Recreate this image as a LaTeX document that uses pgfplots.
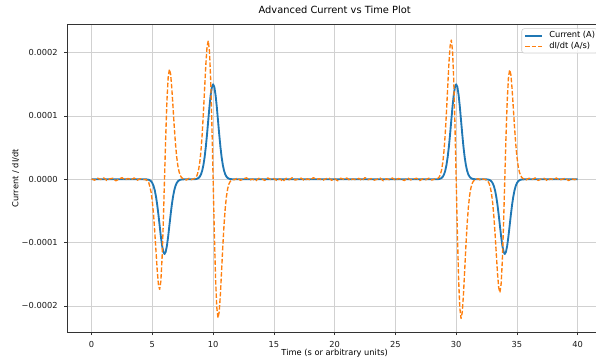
\documentclass[border=0pt]{standalone}
\usepackage{fontspec}
\setmainfont{DejaVu Sans}
\usepackage{pgfplots}
\pgfplotsset{compat=1.18}
\usepackage{pgfplotstable}
\definecolor{mblue}{RGB}{31,119,180}
\definecolor{morange}{RGB}{255,127,14}

\pgfplotstableread{
t I D
0 0 0.6e-6
0.25 0 -1.4e-6
0.5 0 1.8e-6
0.75 0 -0.5e-6
1.0 0 2.2e-6
1.25 0 -1.9e-6
1.5 0 0.7e-6
1.75 0 1.6e-6
2.0 0 -2.4e-6
2.25 0 0.4e-6
2.5 0 2.5e-6
2.75 0 -1.1e-6
3.0 0 1.3e-6
3.25 0 -0.7e-6
3.5 0 2.0e-6
3.75 0 -1.5e-6
4.0 0 0.9e-6
4.25 0 -0.3e-6
4.4 -0.06e-6 -0.5e-6
4.5 -0.14e-6 -0.4e-6
4.6 -0.34e-6 -3.5e-6
4.7 -0.78e-6 -5.0e-6
4.8 -1.63e-6 -12.3e-6
4.9 -3.22e-6 -20.5e-6
5.0 -6.03e-6 -36.2e-6
5.1 -10.6e-6 -56.0e-6
5.2 -17.6e-6 -83.9e-6
5.3 -27.5e-6 -114.0e-6
5.4 -40.4e-6 -143.9e-6
5.5 -56.1e-6 -166.3e-6
5.6 -73.3e-6 -173.8e-6
5.7 -90.3e-6 -160.6e-6
5.8 -104.8e-6 -124.2e-6
5.9 -114.5e-6 -67.9e-6
6.0 -118.0e-6 0.5e-6
6.1 -114.5e-6 67.9e-6
6.2 -104.8e-6 124.2e-6
6.3 -90.3e-6 160.6e-6
6.4 -73.3e-6 173.8e-6
6.5 -56.1e-6 166.3e-6
6.6 -40.4e-6 143.9e-6
6.7 -27.5e-6 114.0e-6
6.8 -17.6e-6 83.3e-6
6.9 -10.6e-6 56.6e-6
7.0 -6.03e-6 35.7e-6
7.1 -3.22e-6 21.1e-6
7.2 -1.63e-6 11.7e-6
7.3 -0.78e-6 5.9e-6
7.4 -0.34e-6 2.8e-6
7.5 -0.14e-6 1.2e-6
7.6 -0.06e-6 0.5e-6
7.8 0 -1.2e-6
8.0 0 1.5e-6
8.2 0 -0.6e-6
8.4 0.08e-6 0.7e-6
8.5 0.18e-6 1.5e-6
8.6 0.44e-6 3.5e-6
8.7 0.99e-6 7.4e-6
8.8 2.07e-6 14.7e-6
8.9 4.10e-6 26.5e-6
9.0 7.67e-6 44.9e-6
9.1 13.5e-6 71.2e-6
9.2 22.4e-6 104.9e-6
9.3 34.9e-6 143.4e-6
9.4 51.4e-6 181.1e-6
9.5 71.3e-6 209.4e-6
9.6 93.2e-6 218.8e-6
9.7 114.8e-6 202.1e-6
9.8 133.2e-6 156.4e-6
9.9 145.6e-6 85.4e-6
10.0 150.0e-6 -0.3e-6
10.1 145.6e-6 -85.4e-6
10.2 133.2e-6 -156.4e-6
10.3 114.8e-6 -202.1e-6
10.4 93.2e-6 -218.8e-6
10.5 71.3e-6 -209.4e-6
10.6 51.4e-6 -181.1e-6
10.7 34.9e-6 -143.4e-6
10.8 22.4e-6 -104.9e-6
10.9 13.5e-6 -71.2e-6
11.0 7.67e-6 -44.9e-6
11.1 4.10e-6 -26.5e-6
11.2 2.07e-6 -14.7e-6
11.3 0.99e-6 -7.4e-6
11.4 0.44e-6 -3.5e-6
11.5 0.18e-6 -1.5e-6
11.6 0.08e-6 -0.7e-6
11.75 0 -0.8e-6
12.0 0 1.9e-6
12.25 0 -1.7e-6
12.5 0 0.6e-6
12.75 0 2.3e-6
13.0 0 -1.2e-6
13.25 0 0.4e-6
13.5 0 -2.5e-6
13.75 0 1.4e-6
14.0 0 0.9e-6
14.25 0 -1.8e-6
14.5 0 2.1e-6
14.75 0 -0.5e-6
15.0 0 1.2e-6
15.25 0 -2.2e-6
15.5 0 0.8e-6
15.75 0 -3.5e-6
16.0 0 1.6e-6
16.25 0 -0.9e-6
16.5 0 2.4e-6
16.75 0 -1.3e-6
17.0 0 0.3e-6
17.25 0 1.8e-6
17.5 0 -2.0e-6
17.75 0 0.7e-6
18.0 0 -1.1e-6
18.25 0 2.6e-6
18.5 0 -0.4e-6
18.75 0 1.0e-6
19.0 0 -1.9e-6
19.25 0 0.5e-6
19.5 0 2.2e-6
19.75 0 -1.5e-6
20.0 0 0.9e-6
20.25 0 -2.4e-6
20.5 0 1.7e-6
20.75 0 -0.2e-6
21.0 0 2.0e-6
21.25 0 -1.6e-6
21.5 0 0.6e-6
21.75 0 -0.9e-6
22.0 0 1.5e-6
22.25 0 -2.1e-6
22.5 0 2.7e-6
22.75 0 -0.7e-6
23.0 0 1.1e-6
23.25 0 -1.4e-6
23.5 0 0.2e-6
23.75 0 1.9e-6
24.0 0 -2.3e-6
24.25 0 0.8e-6
24.5 0 -0.6e-6
24.75 0 2.1e-6
25.0 0 -1.7e-6
25.25 0 1.3e-6
25.5 0 -0.3e-6
25.75 0 -1.9e-6
26.0 0 2.4e-6
26.25 0 -1.0e-6
26.5 0 0.5e-6
26.75 0 1.6e-6
27.0 0 -2.2e-6
27.25 0 0.9e-6
27.5 0 -0.8e-6
27.75 0 1.8e-6
28.0 0 -1.3e-6
28.25 0 0.7e-6
28.4 0.08e-6 0.7e-6
28.5 0.18e-6 1.5e-6
28.6 0.44e-6 3.5e-6
28.7 0.99e-6 7.5e-6
28.8 2.07e-6 14.7e-6
28.9 4.10e-6 26.6e-6
29.0 7.67e-6 45.1e-6
29.1 13.5e-6 71.5e-6
29.2 22.4e-6 105.4e-6
29.3 34.9e-6 144.1e-6
29.4 51.4e-6 181.9e-6
29.5 71.3e-6 210.3e-6
29.6 93.2e-6 219.8e-6
29.7 114.8e-6 203.1e-6
29.8 133.2e-6 157.1e-6
29.9 145.6e-6 85.8e-6
30.0 150.0e-6 0.4e-6
30.1 145.6e-6 -85.8e-6
30.2 133.2e-6 -157.1e-6
30.3 114.8e-6 -203.1e-6
30.4 93.2e-6 -219.8e-6
30.5 71.3e-6 -210.3e-6
30.6 51.4e-6 -181.9e-6
30.7 34.9e-6 -144.1e-6
30.8 22.4e-6 -105.4e-6
30.9 13.5e-6 -71.5e-6
31.0 7.67e-6 -45.1e-6
31.1 4.10e-6 -26.6e-6
31.2 2.07e-6 -14.7e-6
31.3 0.99e-6 -7.5e-6
31.4 0.44e-6 -3.5e-6
31.5 0.18e-6 -1.5e-6
31.6 0.08e-6 -0.7e-6
31.8 0 1.0e-6
32.0 0 -1.4e-6
32.2 0 0.6e-6
32.4 -0.06e-6 -0.5e-6
32.5 -0.14e-6 -1.3e-6
32.6 -0.34e-6 -2.9e-6
32.7 -0.78e-6 -6.1e-6
32.8 -1.63e-6 -12.0e-6
32.9 -3.22e-6 -21.7e-6
33.0 -6.03e-6 -36.7e-6
33.1 -10.6e-6 -58.2e-6
33.2 -17.6e-6 -85.7e-6
33.3 -27.5e-6 -117.2e-6
33.4 -40.4e-6 -148.0e-6
33.5 -56.1e-6 -171.1e-6
33.6 -73.3e-6 -178.8e-6
33.7 -90.3e-6 -165.2e-6
33.8 -104.8e-6 -127.8e-6
33.9 -114.5e-6 -69.8e-6
34.0 -118.0e-6 -0.4e-6
34.1 -114.5e-6 67.5e-6
34.2 -104.8e-6 123.5e-6
34.3 -90.3e-6 159.7e-6
34.4 -73.3e-6 172.8e-6
34.5 -56.1e-6 165.4e-6
34.6 -40.4e-6 143.1e-6
34.7 -27.5e-6 113.3e-6
34.8 -17.6e-6 82.9e-6
34.9 -10.6e-6 56.2e-6
35.0 -6.03e-6 35.5e-6
35.1 -3.22e-6 20.9e-6
35.2 -1.63e-6 11.6e-6
35.3 -0.78e-6 5.9e-6
35.4 -0.34e-6 2.8e-6
35.5 -0.14e-6 1.2e-6
35.6 -0.06e-6 0.5e-6
35.75 0 -1.1e-6
36.0 0 1.7e-6
36.25 0 -0.4e-6
36.5 0 2.2e-6
36.75 0 -1.8e-6
37.0 0 0.6e-6
37.25 0 1.4e-6
37.5 0 -2.3e-6
37.75 0 0.9e-6
38.0 0 -0.7e-6
38.25 0 2.0e-6
38.5 0 -1.5e-6
38.75 0 0.3e-6
39.0 0 1.6e-6
39.25 0 -2.1e-6
39.5 0 0.8e-6
39.75 0 -0.6e-6
40.0 0 1.2e-6
}\datatable

\begin{document}
\begin{tikzpicture}
\begin{axis}[
  name=ax,
  scale only axis,
  width=534.7bp, height=308bp,
  xmin=-2, xmax=42,
  ymin=-0.0002416, ymax=0.0002447,
  xtick={0,5,10,15,20,25,30,35,40},
  xticklabels={0,5,10,15,20,25,30,35,40},
  ytick={-0.0002,-0.0001,0,0.0001,0.0002},
  yticklabels={−0.0002,−0.0001,0.0000,0.0001,0.0002},
  scaled y ticks=false, scaled x ticks=false,
  xtick pos=bottom, ytick pos=left,
  tick align=outside,
  major tick length=2.9bp,
  tick style={black!80, line width=0.66bp},
  axis line style={black!80, line width=0.66bp},
  grid=major,
  major grid style={color=black!18, line width=0.75bp},
  tick label style={font=\fontsize{8.3}{10}\selectfont, inner sep=0pt, text=black!90},
  xticklabel style={anchor=north, yshift=-5.8bp},
  yticklabel style={anchor=east, xshift=-6.6bp},
  title={Advanced Current vs Time Plot},
  title style={at={(axis description cs:0.5,1)}, anchor=base, yshift=4.8bp, inner sep=0pt, font=\fontsize{9.9}{12}\selectfont},
  xlabel={Time (s or arbitrary units)},
  xlabel style={at={(axis description cs:0.5,0)}, anchor=base, yshift=-23.2bp, inner sep=0pt, font=\fontsize{8.3}{10}\selectfont},
  ylabel={Current / dI/dt},
  ylabel style={at={(axis description cs:-0.0965,0.5)}, anchor=center, inner sep=0pt, font=\fontsize{8.3}{10}\selectfont},
  legend cell align=left,
  legend image code/.code={\draw[#1] (0bp,0bp) -- (16.6bp,0bp);},
  legend style={at={(axis description cs:1,1)}, anchor=north east, xshift=-4.1bp, yshift=-4.1bp,
    draw=black!20, line width=0.6bp, rounded corners=2.5bp, fill=white, fill opacity=0.8, text opacity=1,
    font=\fontsize{8.3}{10}\selectfont, inner xsep=2.5bp, inner ysep=3bp, row sep=2.5bp,
    nodes={inner sep=0pt, text height=6.2bp, text depth=1.8bp},
    /tikz/every odd column/.append style={column sep=6.6bp}},
]
\addplot[mblue, line width=1.85bp, no marks, line join=round] table[x=t,y=I]{\datatable};
\addlegendentry{Current (A)}
\addplot[morange, line width=1.35bp, no marks, line join=round, dash pattern=on 4.6bp off 2bp] table[x=t,y=D]{\datatable};
\addlegendentry{dI/dt (A/s)}
\end{axis}
\pgfresetboundingbox
\path[use as bounding box] ([shift={(-67.3bp,-25.7bp)}]ax.south west) rectangle ([shift={(528.7bp,24.3bp)}]ax.north west);
\end{tikzpicture}
\end{document}
